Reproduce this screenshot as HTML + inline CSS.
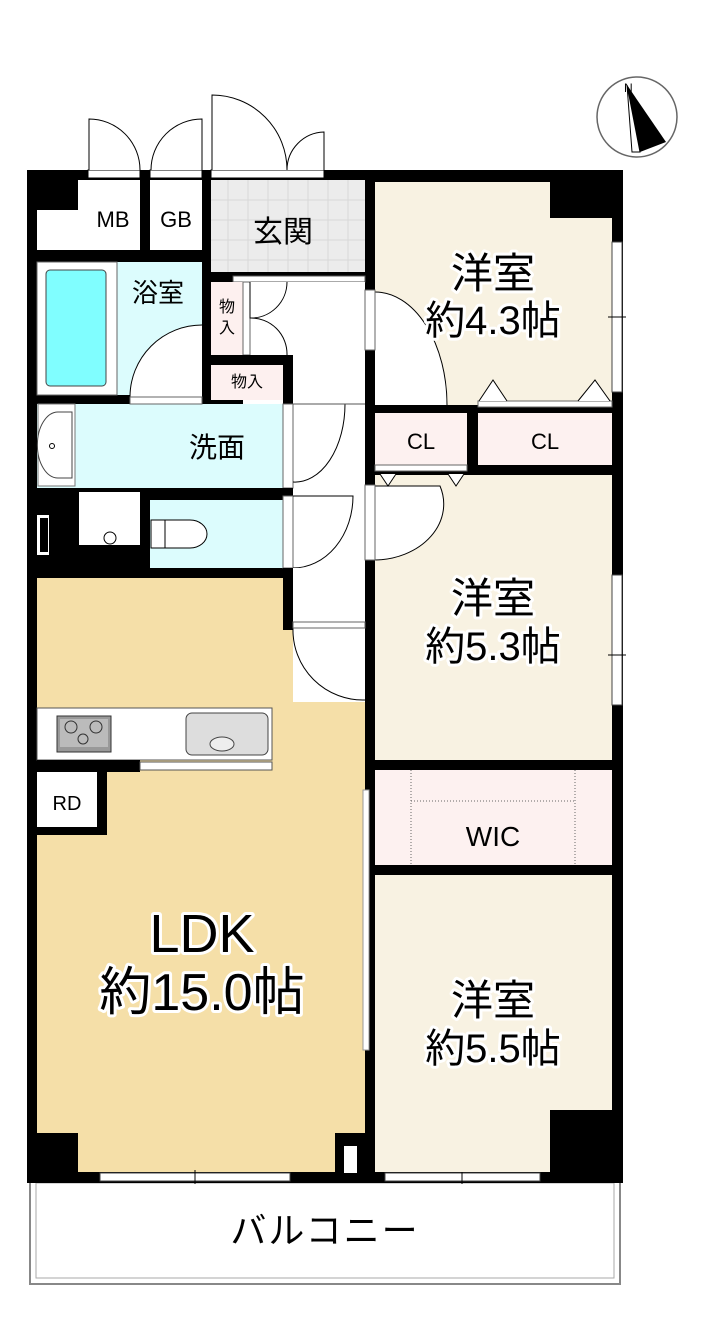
<!DOCTYPE html>
<html><head><meta charset="utf-8"><style>
html,body{margin:0;padding:0;background:#fff;}
svg{display:block}
text{font-family:"Liberation Sans","Noto Sans CJK JP",sans-serif;}
.lbl{paint-order:stroke;stroke:#fff;stroke-width:6px;stroke-linejoin:round;fill:#000;}
</style></head><body>
<svg width="723" height="1343" viewBox="0 0 723 1343" xmlns="http://www.w3.org/2000/svg">
<rect x="30" y="1180" width="590" height="104" fill="#fff" stroke="#888" stroke-width="2"/>
<rect x="36" y="1183" width="578" height="95" fill="#fff" stroke="#aaa" stroke-width="1"/>
<text x="325" y="1243" font-size="36" text-anchor="middle" letter-spacing="2">バルコニー</text>

<rect x="27" y="170" width="596" height="1013" fill="#000"/>

<rect x="37" y="180" width="103" height="70" fill="#fff"/>
<rect x="150" y="180" width="52" height="70" fill="#fff"/>
<rect x="211" y="180" width="154" height="92" fill="#ececec"/>
<g stroke="#d8d8d8" stroke-width="1">
<line x1="228" y1="180" x2="228" y2="272"/><line x1="248" y1="180" x2="248" y2="272"/><line x1="268" y1="180" x2="268" y2="272"/><line x1="288" y1="180" x2="288" y2="272"/><line x1="308" y1="180" x2="308" y2="272"/><line x1="328" y1="180" x2="328" y2="272"/><line x1="348" y1="180" x2="348" y2="272"/>
<line x1="211" y1="200" x2="365" y2="200"/><line x1="211" y1="220" x2="365" y2="220"/><line x1="211" y1="240" x2="365" y2="240"/><line x1="211" y1="260" x2="365" y2="260"/>
</g>
<rect x="37" y="180" width="41" height="30" fill="#000"/>
<rect x="37" y="262" width="165" height="133" fill="#dcfcfd"/>
<rect x="37" y="262" width="80" height="133" fill="#fff" stroke="#666" stroke-width="1"/>
<rect x="46" y="270" width="60" height="116" rx="4" fill="#80feff" stroke="#444" stroke-width="1"/>
<path d="M202,325 A72,72 0 0 0 130,397 L202,397 Z" fill="#fff" stroke="none"/>
<path d="M202,325 A72,72 0 0 0 130,397" fill="none" stroke="#000" stroke-width="1"/>
<rect x="211" y="272" width="154" height="10" fill="#000"/>
<rect x="233" y="276" width="132" height="6" fill="#fff" stroke="#555" stroke-width="1"/>
<rect x="211" y="282" width="32" height="73" fill="#fdf0ef"/>
<rect x="243" y="282" width="122" height="420" fill="#fff"/>
<rect x="243" y="282" width="7" height="73" fill="#fff" stroke="#666" stroke-width="1"/>
<path d="M250,282 L250,318 A36,36 0 0 0 287,282" fill="none" stroke="#000" stroke-width="1"/>
<path d="M250,318 A36,36 0 0 1 287,355" fill="none" stroke="#000" stroke-width="1"/>
<rect x="211" y="355" width="82" height="10" fill="#000"/>
<rect x="283" y="355" width="10" height="225" fill="#000"/>
<rect x="211" y="365" width="72" height="35" fill="#fdf0ef"/>
<rect x="37" y="404" width="246" height="84" fill="#dcfcfd"/>
<rect x="130" y="397" width="72" height="7" fill="#fff" stroke="#666" stroke-width="1"/>
<rect x="38" y="404" width="37" height="82" fill="#fff" stroke="#777" stroke-width="1"/>
<path d="M72,412 L58,412 A20,32 0 0 0 58,478 L72,478 Z" fill="#fff" stroke="#444" stroke-width="1"/>
<circle cx="52" cy="446" r="2.5" fill="none" stroke="#000"/>
<rect x="283" y="404" width="10" height="84" fill="#fff" stroke="#666" stroke-width="1"/>
<path d="M293,404 L345,404 A50,78 0 0 1 293,482" fill="none" stroke="#000" stroke-width="1"/>
<line x1="293" y1="404" x2="365" y2="404" stroke="#555" stroke-width="1"/>
<!-- walls around toilet -->
<rect x="37" y="488" width="256" height="12" fill="#000"/>
<rect x="140" y="488" width="10" height="90" fill="#000"/>
<rect x="140" y="568" width="153" height="10" fill="#000"/>
<rect x="79" y="492" width="61" height="53" fill="#fff"/>
<circle cx="110" cy="538" r="6" fill="#fff" stroke="#000"/>
<rect x="150" y="500" width="133" height="68" fill="#dcfcfd"/>
<path d="M151,520 L165,520 L165,548 L151,548 Z" fill="#fff" stroke="#000"/>
<path d="M165,520 L190,520 A17,14 0 0 1 190,548 L165,548 Z" fill="#fff" stroke="#000"/>
<rect x="283" y="496" width="10" height="72" fill="#fff" stroke="#666" stroke-width="1"/>
<path d="M293,496 L353,496 A60,72 0 0 1 293,568" fill="none" stroke="#000" stroke-width="1"/>
<rect x="37" y="515" width="12" height="40" fill="#fff"/>
<rect x="40" y="518" width="8" height="34" fill="#000"/>
<line x1="293" y1="580" x2="365" y2="580" stroke="#555"/>
<rect x="37" y="578" width="246" height="594" fill="#f5dfa8"/>
<rect x="283" y="578" width="82" height="594" fill="#f5dfa8"/>
<rect x="293" y="568" width="72" height="134" fill="#fff"/>
<rect x="283" y="568" width="10" height="62" fill="#000"/>
<path d="M293,628 A70,70 0 0 0 365,700" fill="#fff" stroke="#000"/>
<rect x="293" y="622" width="72" height="6" fill="#fff" stroke="#666"/>
<rect x="37" y="708" width="235" height="52" fill="#fff" stroke="#555"/>
<rect x="37" y="760" width="103" height="12" fill="#000"/>
<rect x="140" y="762" width="132" height="8" fill="#fff" stroke="#555"/>
<rect x="57" y="716" width="54" height="36" fill="#999" stroke="#333"/>
<rect x="60" y="719" width="48" height="28" fill="#bbb"/>
<circle cx="71" cy="727" r="6" fill="none" stroke="#333"/><circle cx="96" cy="727" r="6" fill="none" stroke="#333"/><circle cx="83" cy="739" r="5" fill="none" stroke="#333"/>
<rect x="186" y="713" width="82" height="42" rx="6" fill="#ddd" stroke="#444"/>
<ellipse cx="222" cy="744" rx="12" ry="7" fill="#eee" stroke="#444"/>
<rect x="37" y="772" width="60" height="55" fill="#fff"/>
<rect x="97" y="772" width="10" height="63" fill="#000"/>
<rect x="37" y="827" width="70" height="8" fill="#000"/>
<rect x="37" y="1133" width="41" height="40" fill="#000"/>
<rect x="335" y="1133" width="30" height="40" fill="#000"/>
<rect x="344" y="1146" width="13" height="27" fill="#fff"/>
<rect x="363" y="790" width="6" height="260" fill="#fff" stroke="#999" stroke-width="1"/>
<rect x="100" y="1173" width="190" height="8" fill="#fff" stroke="#444"/>
<line x1="195" y1="1170" x2="195" y2="1184" stroke="#000"/>
<rect x="385" y="1173" width="155" height="8" fill="#fff" stroke="#444"/>
<line x1="462" y1="1170" x2="462" y2="1184" stroke="#000"/>
<g fill="#fff" stroke="#000" stroke-width="1">
<rect x="88" y="170" width="52" height="8"/><rect x="150" y="170" width="52" height="8"/><rect x="211" y="170" width="113" height="8"/>
<path d="M89,170 L89,119 A51,51 0 0 1 140,170"/>
<path d="M202,170 L202,119 A51,51 0 0 0 151,170"/>
<path d="M212,170 L212,95 A75,75 0 0 1 287,170"/>
<path d="M324,170 L324,132 A38,38 0 0 0 287,170"/>
</g>
<rect x="375" y="182" width="237" height="223" fill="#f8f2e2"/>
<rect x="550" y="180" width="62" height="38" fill="#000"/>
<rect x="612" y="242" width="10" height="150" fill="#fff" stroke="#444"/>
<line x1="608" y1="317" x2="626" y2="317" stroke="#000"/>
<path d="M375,292 A72,113 0 0 1 447,405 L375,405 Z" fill="#fff" stroke="none"/>
<path d="M375,292 A72,113 0 0 1 447,405" fill="none" stroke="#000"/>
<rect x="365" y="290" width="10" height="60" fill="#fff" stroke="#666"/>
<rect x="375" y="405" width="237" height="8" fill="#000"/>
<rect x="478" y="401" width="134" height="6" fill="#fff" stroke="#666"/>
<path d="M479,401 L493,380 L507,401 M578,401 L595,380 L610,401" fill="#fff" stroke="#000"/>
<rect x="375" y="413" width="92" height="52" fill="#fdf1f0"/>
<rect x="478" y="413" width="134" height="52" fill="#fdf1f0"/>
<rect x="375" y="465" width="92" height="6" fill="#fff" stroke="#666"/>
<rect x="375" y="475" width="237" height="285" fill="#f8f2e2"/>
<path d="M375,486 L440,486 A70,56 0 0 1 375,560 Z" fill="#fff" stroke="#000"/>
<path d="M380,474 L388,486 L396,474 M448,474 L456,486 L464,474" fill="#fff" stroke="#000"/>
<rect x="365" y="485" width="10" height="75" fill="#fff" stroke="#666"/>
<rect x="612" y="575" width="10" height="130" fill="#fff" stroke="#444"/>
<line x1="608" y1="655" x2="626" y2="655" stroke="#000"/>
<rect x="375" y="770" width="237" height="95" fill="#fdf1f0"/>
<path d="M411,770 L411,865 M575,770 L575,865 M411,801 L575,801" stroke="#666" stroke-dasharray="1,2" fill="none"/>
<rect x="375" y="875" width="237" height="297" fill="#f8f2e2"/>
<rect x="550" y="1110" width="62" height="62" fill="#000"/>
<text x="113" y="227" font-size="22" text-anchor="middle">MB</text>
<text x="176" y="227" font-size="22" text-anchor="middle">GB</text>
<text x="283" y="242" font-size="30" text-anchor="middle">玄関</text>
<text x="158" y="302" font-size="26" text-anchor="middle">浴室</text>
<text x="227" y="312" font-size="16" text-anchor="middle">物</text>
<text x="227" y="333" font-size="16" text-anchor="middle">入</text>
<text x="247" y="387" font-size="16" text-anchor="middle">物入</text>
<text x="217" y="457" font-size="28" text-anchor="middle">洗面</text>
<text x="421" y="449" font-size="22" text-anchor="middle">CL</text>
<text x="545" y="449" font-size="22" text-anchor="middle">CL</text>
<text x="67" y="810" font-size="20" text-anchor="middle">RD</text>
<text x="493" y="846" font-size="28" text-anchor="middle">WIC</text>
<g class="lbl">
<text x="493" y="288" font-size="42" text-anchor="middle">洋室</text>
<text x="493" y="334" font-size="40" text-anchor="middle">約4.3帖</text>
<text x="493" y="613" font-size="42" text-anchor="middle">洋室</text>
<text x="493" y="660" font-size="40" text-anchor="middle">約5.3帖</text>
<text x="493" y="1015" font-size="42" text-anchor="middle">洋室</text>
<text x="493" y="1062" font-size="40" text-anchor="middle">約5.5帖</text>
<text x="202" y="952" font-size="54" text-anchor="middle">LDK</text>
<text x="202" y="1010" font-size="52" text-anchor="middle">約15.0帖</text>
</g>
<circle cx="637" cy="117" r="40" fill="#fff" stroke="#666" stroke-width="1.5"/>
<path d="M627,85 L666,142 L640,152 Z" fill="#000"/>
<path d="M627,85 L640,152 L632,152 Z" fill="#fff" stroke="#000"/>
<text x="624" y="92" font-size="12">N</text>
</svg>
</body></html>
